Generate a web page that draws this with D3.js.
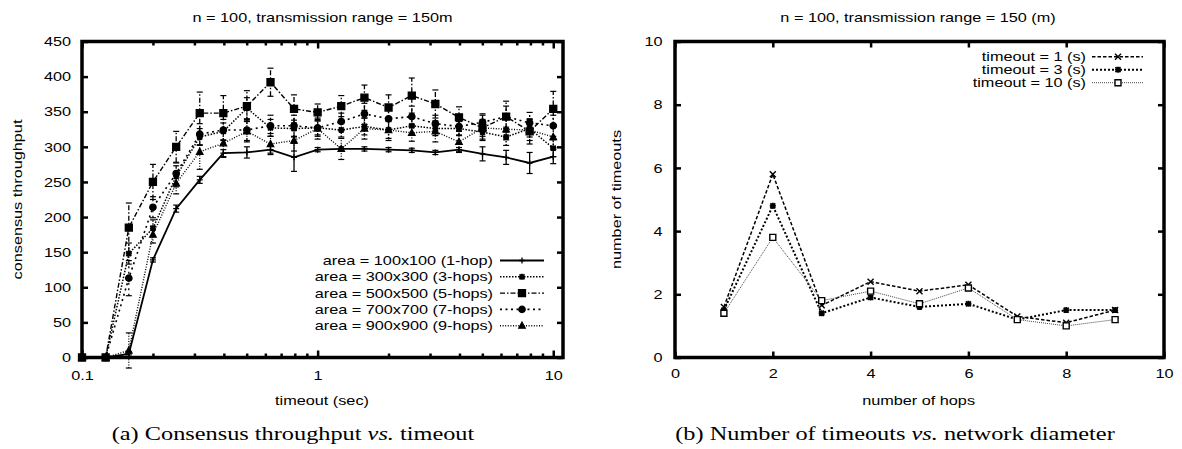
<!DOCTYPE html>
<html lang="en">
<head>
<meta charset="UTF-8">
<title>Consensus throughput and timeouts</title>
<script src="https://d3js.org/d3.v7.min.js"></script>
<style>
  body { margin: 0; background: #fff; }
  text { font-family: "Liberation Sans", Arial, Helvetica, sans-serif; font-size: 13px; fill: #000; }
  text.cap { font-family: "Liberation Serif", "Times New Roman", serif; font-size: 19px; }
</style>
</head>
<body>
<svg id="fig" width="1182" height="449"></svg>
<script>
// (a) throughput vs timeout, one array per area
const timeouts = [0.1, 0.126, 0.158, 0.2, 0.251, 0.316, 0.398, 0.501, 0.631, 0.794, 1, 1.26, 1.58, 2, 2.51, 3.16, 3.98, 5.01, 6.31, 7.94, 10];
const thr100 = [0, 0, 5, 139, 212, 253, 291, 292, 296, 285, 296, 297, 297, 296, 295, 292, 296, 290, 285, 277, 286];
const err100 = [0, 0, 3, 3, 5, 5, 5, 8, 5, 20, 3, 3, 3, 3, 3, 3, 3, 10, 10, 15, 10];
const thr300 = [0, 0, 148, 184, 258, 314, 322, 355, 327, 326, 327, 324, 329, 324, 330, 326, 326, 321, 314, 326, 298];
const err300 = [0, 0, 15, 12, 15, 12, 12, 15, 12, 12, 10, 10, 12, 12, 12, 10, 10, 10, 12, 12, 12];
const thr500 = [0, 0, 185, 250, 300, 348, 348, 358, 392, 354, 349, 358, 370, 356, 373, 361, 342, 327, 343, 322, 354];
const err500 = [0, 0, 35, 25, 22, 30, 25, 22, 20, 20, 12, 15, 18, 18, 25, 20, 15, 18, 22, 18, 25];
const thr700 = [0, 0, 113, 214, 262, 318, 324, 324, 330, 330, 327, 336, 347, 340, 343, 333, 329, 335, 343, 334, 330];
const err700 = [0, 0, 25, 15, 15, 15, 15, 15, 15, 15, 12, 12, 15, 15, 15, 12, 12, 12, 15, 15, 15];
const thr900 = [0, 0, 10, 175, 248, 293, 305, 322, 304, 309, 326, 297, 326, 324, 320, 322, 307, 327, 325, 324, 314];
const err900 = [0, 0, 25, 12, 15, 25, 20, 15, 15, 15, 15, 15, 15, 15, 12, 15, 15, 12, 15, 15, 15];
const areaLabels = ["area = 100x100 (1-hop)", "area = 300x300 (3-hops)", "area = 500x500 (5-hops)", "area = 700x700 (7-hops)", "area = 900x900 (9-hops)"];

// (b) number of timeouts vs hops
const hops = [1, 2, 3, 4, 5, 6, 7, 8, 9];
const to1 = [1.6, 5.8, 1.65, 2.4, 2.1, 2.3, 1.3, 1.1, 1.5];
const to3 = [1.5, 4.8, 1.4, 1.9, 1.6, 1.7, 1.2, 1.5, 1.5];
const to10 = [1.4, 3.8, 1.8, 2.1, 1.7, 2.2, 1.2, 1.0, 1.2];
const timeoutLabels = ["timeout = 1 (s)", "timeout = 3 (s)", "timeout = 10 (s)"];

// ticks
const yTicksA = [0, 50, 100, 150, 200, 250, 300, 350, 400, 450];
const xMajorA = [0.1, 1, 10];
const xMinorA = [0.2, 0.3, 0.4, 0.5, 0.6, 0.7, 0.8, 0.9, 2, 3, 4, 5, 6, 7, 8, 9];
const ticksB = [0, 2, 4, 6, 8, 10];

const SX = 1.25;   // glyphs in the picture are wide
const CAPSX = 1.28;

const svg = d3.select("#fig");
svg.append("rect").attr("width", 1182).attr("height", 449).attr("fill", "#fff");

function label(x, y, str, anchor, rot) {
  return svg.append("text")
    .attr("transform", `translate(${x},${y})${rot ? ` rotate(${rot})` : ""} scale(${SX},1)`)
    .attr("text-anchor", anchor || "middle")
    .attr("dy", "0.35em")
    .text(str);
}

function styleTicks(g) {
  g.select(".domain").remove();
  g.selectAll(".tick line").attr("stroke", "#000").attr("stroke-width", 2.5);
}

function stretchLeftText(g) {
  g.selectAll("text").each(function () {
    const t = d3.select(this);
    const x = +t.attr("x");
    t.attr("x", null).attr("transform", `translate(${x},0) scale(${SX},1)`);
  });
}

function marker(g, type, x, y) {
  const p = g.append("path").attr("transform", `translate(${x},${y})`)
    .attr("stroke", "#000").attr("stroke-width", 1.3).attr("fill", "none");
  if (type === "plus") p.attr("d", "M-3,0H3M0,-3V3");
  else if (type === "cross") p.attr("d", "M-3,-3L3,3M-3,3L3,-3").attr("stroke-width", 1.4);
  else if (type === "star") p.attr("d", "M-3,0H3M0,-3V3M-2.5,-2.5L2.5,2.5M-2.5,2.5L2.5,-2.5").attr("stroke-width", 1.8);
  else if (type === "box") p.attr("d", "M-3,-3H3V3H-3Z").attr("fill", "#fff").attr("stroke-width", 1.4);
  else if (type === "fbox") p.attr("d", "M-3.5,-3.5H3.5V3.5H-3.5Z").attr("fill", "#000");
  else if (type === "fcircle") p.attr("d", d3.symbol(d3.symbolCircle, 32)()).attr("fill", "#000");
  else if (type === "ftri") p.attr("d", "M0,-3.5L3.2,2.5H-3.2Z").attr("fill", "#000");
}

// ---------------- (a) ----------------
const A = { x0: 82, x1: 563, y0: 357.5, y1: 41.5 };
const xA = d3.scaleLog().domain([0.1, 11]).range([A.x0, A.x1]);
const yA = d3.scaleLinear().domain([0, 450]).range([A.y0, A.y1]);

const gyA = svg.append("g").attr("transform", `translate(${A.x0},0)`)
  .call(d3.axisLeft(yA).tickValues(yTicksA).tickSize(-6).tickPadding(11));
gyA.call(styleTicks).call(stretchLeftText);
svg.append("g").attr("transform", `translate(${A.x1},0)`)
  .call(d3.axisRight(yA).tickValues(yTicksA).tickSize(-6).tickFormat(""))
  .call(styleTicks);

const allXA = xMinorA.concat(xMajorA);
const gxA = svg.append("g").attr("transform", `translate(0,${A.y0})`)
  .call(d3.axisBottom(xA).tickValues(allXA).tickSize(-4).tickFormat(d => xMajorA.includes(d) ? String(d) : ""));
gxA.call(styleTicks);
gxA.selectAll(".tick").filter(d => xMajorA.includes(d)).select("line").attr("y2", -7);
gxA.selectAll("text").attr("y", 17.5).attr("dy", "0.35em").attr("transform", `scale(${SX},1)`);
const gxAt = svg.append("g").attr("transform", `translate(0,${A.y1})`)
  .call(d3.axisTop(xA).tickValues(allXA).tickSize(-4).tickFormat(""));
gxAt.call(styleTicks);
gxAt.selectAll(".tick").filter(d => xMajorA.includes(d)).select("line").attr("y2", 7);

const seriesA = [
  { v: thr100, e: err100, dash: null, w: 1.8, m: "plus" },
  { v: thr300, e: err300, dash: "1.5,1.5", w: 1.5, m: "star" },
  { v: thr500, e: err500, dash: "5,2,1.5,2", w: 1.4, m: "fbox" },
  { v: thr700, e: err700, dash: "2,3.5", w: 1.6, m: "fcircle" },
  { v: thr900, e: err900, dash: "1,1.6", w: 1.4, m: "ftri" }
];

const lineA = d3.line().x(d => xA(d[0])).y(d => yA(d[1]));
const plotA = svg.append("g");
seriesA.forEach(s => {
  const pts = timeouts.map((t, i) => [t, s.v[i], s.e[i]]);
  plotA.append("path").attr("d", lineA(pts)).attr("fill", "none")
    .attr("stroke", "#000").attr("stroke-width", s.w).attr("stroke-dasharray", s.dash);
  pts.filter(p => p[2] > 0).forEach(p => {
    const x = xA(p[0]);
    plotA.append("line").attr("x1", x).attr("x2", x).attr("y1", yA(p[1] - p[2])).attr("y2", yA(p[1] + p[2]))
      .attr("stroke", "#000").attr("stroke-width", 1.3).attr("stroke-dasharray", s.dash);
    [p[1] - p[2], p[1] + p[2]].forEach(v => {
      plotA.append("line").attr("x1", x - 3).attr("x2", x + 3).attr("y1", yA(v)).attr("y2", yA(v))
        .attr("stroke", "#000").attr("stroke-width", 1.2);
    });
  });
  pts.forEach(p => marker(plotA, s.m, xA(p[0]), yA(p[1])));
});

svg.append("rect").attr("x", A.x0).attr("y", A.y1).attr("width", A.x1 - A.x0).attr("height", A.y0 - A.y1)
  .attr("fill", "none").attr("stroke", "#000").attr("stroke-width", 3.5);

// legend (a)
seriesA.forEach((s, i) => {
  const y = 260.5 + 16.3 * i;
  label(493, y, areaLabels[i], "end");
  svg.append("line").attr("x1", 500).attr("x2", 544).attr("y1", y).attr("y2", y)
    .attr("stroke", "#000").attr("stroke-width", s.w).attr("stroke-dasharray", s.dash);
  marker(svg, s.m, 522, y);
});

label(322.5, 17, "n = 100, transmission range = 150m");
label(322, 400.7, "timeout (sec)");
label(17, 199.5, "consensus throughput", "middle", -90);

// ---------------- (b) ----------------
const B = { x0: 675, x1: 1164, y0: 357.5, y1: 41.5 };
const xB = d3.scaleLinear().domain([0, 10]).range([B.x0, B.x1]);
const yB = d3.scaleLinear().domain([0, 10]).range([B.y0, B.y1]);

const gyB = svg.append("g").attr("transform", `translate(${B.x0},0)`)
  .call(d3.axisLeft(yB).tickValues(ticksB).tickSize(-6).tickPadding(12.5));
gyB.call(styleTicks).call(stretchLeftText);
svg.append("g").attr("transform", `translate(${B.x1},0)`)
  .call(d3.axisRight(yB).tickValues(ticksB).tickSize(-6).tickFormat(""))
  .call(styleTicks);
const gxB = svg.append("g").attr("transform", `translate(0,${B.y0})`)
  .call(d3.axisBottom(xB).tickValues(ticksB).tickSize(-6));
gxB.call(styleTicks);
gxB.selectAll("text").attr("y", 16).attr("dy", "0.35em").attr("transform", `scale(${SX},1)`);
svg.append("g").attr("transform", `translate(0,${B.y1})`)
  .call(d3.axisTop(xB).tickValues(ticksB).tickSize(-6).tickFormat(""))
  .call(styleTicks);

const seriesB = [
  { v: to1, dash: "3.5,2", w: 1.5, c: "#000", m: "cross" },
  { v: to3, dash: "2,2", w: 2, c: "#000", m: "star" },
  { v: to10, dash: "1,1", w: 1, c: "#444", m: "box" }
];
const lineB = d3.line().x(d => xB(d[0])).y(d => yB(d[1]));
const plotB = svg.append("g");
seriesB.forEach(s => {
  const pts = hops.map((h, i) => [h, s.v[i]]);
  plotB.append("path").attr("d", lineB(pts)).attr("fill", "none")
    .attr("stroke", s.c).attr("stroke-width", s.w).attr("stroke-dasharray", s.dash);
  pts.forEach(p => marker(plotB, s.m, xB(p[0]), yB(p[1])));
});

svg.append("rect").attr("x", B.x0).attr("y", B.y1).attr("width", B.x1 - B.x0).attr("height", B.y0 - B.y1)
  .attr("fill", "none").attr("stroke", "#000").attr("stroke-width", 3.5);

seriesB.forEach((s, i) => {
  const y = 56.7 + 13 * i;
  label(1086, y, timeoutLabels[i], "end");
  svg.append("line").attr("x1", 1092).attr("x2", 1143).attr("y1", y).attr("y2", y)
    .attr("stroke", s.c).attr("stroke-width", s.w).attr("stroke-dasharray", s.dash);
  marker(svg, s.m, 1118, y);
});

label(918, 17, "n = 100, transmission range = 150 (m)");
label(918.6, 400.7, "number of hops");
label(616.7, 199.5, "number of timeouts", "middle", -90);

// captions
function caption(x, parts) {
  const t = svg.append("text").attr("class", "cap").attr("text-anchor", "middle")
    .attr("transform", `translate(${x},440) scale(${CAPSX},1)`);
  parts.forEach(p => t.append("tspan").attr("font-style", p[1] ? "italic" : null).text(p[0]));
}
caption(293, [["(a) Consensus throughput ", false], ["vs.", true], [" timeout", false]]);
caption(895, [["(b) Number of timeouts ", false], ["vs.", true], [" network diameter", false]]);
</script>
</body>
</html>
